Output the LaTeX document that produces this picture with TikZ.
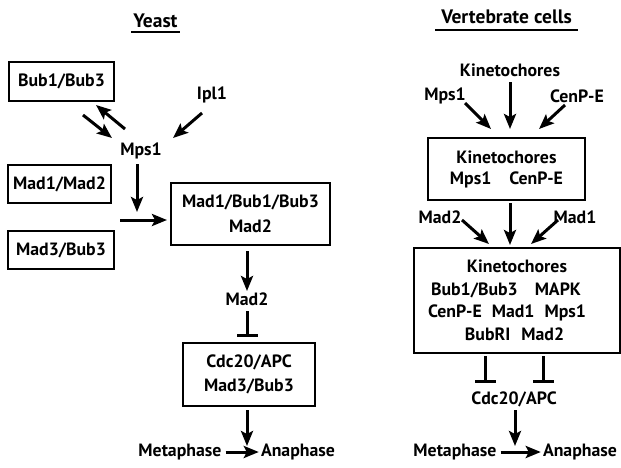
\documentclass[tikz,border=0pt]{standalone}
\usepackage{fontspec}
\setmainfont{PT Sans}
\usetikzlibrary{arrows.meta}
\begin{document}
\begin{tikzpicture}[x=1pt,y=-1pt,
  every node/.style={font=\bfseries\fontsize{17.8}{21}\selectfont, inner sep=0pt},
  ttl/.style={font=\bfseries\fontsize{19.5}{22}\selectfont},
  box/.style={draw, line width=2pt, align=center},
  arr/.style={line width=3pt, -{Stealth[length=15pt,width=12pt,inset=3pt]}},
  inh/.style={line width=3pt, -{Bar[width=21pt,line width=3.2pt]}}
]
\useasboundingbox (0,0) rectangle (621,467);
% ---------------- Yeast ----------------
\node[ttl] (tyeast) at (155.5,21) {Yeast};
\draw[line width=2pt] (131,32) -- (180,32);
\node[box, minimum width=105, minimum height=39] (bub13) at (61.5,81.5) {Bub1/Bub3};
\node (ipl1) at (212,95) {Ipl1};
\node (mps1) at (141,151) {Mps1};
\node[box, minimum width=103, minimum height=38] (mad12) at (59.5,184) {Mad1/Mad2};
\node[box, minimum width=106, minimum height=38] (mad3b) at (61,250) {Mad3/Bub3};
\node[box, minimum width=159, minimum height=62] (ybox) at (250.5,214) {Mad1/Bub1/Bub3\\[4pt]Mad2};
\node (ymad2) at (247,299) {Mad2};
\node[box, minimum width=132, minimum height=63] (ycdc) at (249,374.5) {Cdc20/APC\\[3pt]Mad3/Bub3};
\node (ymeta) at (180,452) {Metaphase};
\node (yana) at (298,452) {Anaphase};

\coordinate (a1s) at (83,115); \coordinate (a1e) at (112,138);
\coordinate (a2s) at (125,129); \coordinate (a2e) at (96,105);
\coordinate (a3s) at (202,113); \coordinate (a3e) at (173,138);
\coordinate (a4s) at (137,164); \coordinate (a4e) at (137,212);
\coordinate (a5s) at (120,220);
\draw[arr] (a1s) -- (a1e);
\draw[arr] (a2s) -- (a2e);
\draw[arr] (a3s) -- (a3e);
\draw[arr] (a4s) -- (a4e);
\draw[arr] (a5s) -- ([xshift=-3pt]ybox.west |- a5s);
\coordinate (m2s) at (247,251); \coordinate (m2e) at (247,291);
\draw[arr] (m2s) -- (m2e);
\coordinate (m3s) at (247,311); \coordinate (m3e) at (247,337);
\draw[inh] (m3s) -- (m3e);
\coordinate (ycs) at (247,410); \coordinate (yarrend) at (247,446);
\draw[arr] (ycs) -- (yarrend);
\draw[arr] ([xshift=4pt]ymeta.east) -- ([xshift=-2pt]yana.west);

% ---------------- Vertebrate ----------------
\node[ttl] (tvert) at (506.5,17) {Vertebrate cells};
\draw[line width=2pt] (435,30) -- (578,30);
\node (vkin) at (510,70) {Kinetochores};
\node (vmps1) at (445,96) {Mps1};
\node (vcenp) at (577,96) {CenP-E};
\node[box, minimum width=157, minimum height=62] (vkbox) at (506.5,169) {Kinetochores\\Mps1\quad CenP-E};
\node (vmad2) at (440,217) {Mad2};
\node (vmad1) at (575,217) {Mad1};
\node[box, minimum width=206, minimum height=105] (vbig) at (517,300.5)
  {Kinetochores\\[1.5pt]Bub1/Bub3\hspace{17pt}MAPK\kern22pt\\[1.5pt]CenP-E\hspace{10pt}Mad1\hspace{10pt}Mps1\kern20pt\\[1.5pt]BubRI\hspace{11pt}Mad2\kern5pt};
\node (vcdc) at (514,399) {Cdc20/APC};
\node (vmeta) at (455,452) {Metaphase};
\node (vana) at (580,452) {Anaphase};

\coordinate (b1s) at (510,82); \coordinate (b1e) at (510,129);
\coordinate (b2s) at (465,103); \coordinate (b2e) at (491,129);
\coordinate (b3s) at (565,105); \coordinate (b3e) at (539,129);
\draw[arr] (b1s) -- (b1e);
\draw[arr] (b2s) -- (b2e);
\draw[arr] (b3s) -- (b3e);
\coordinate (c1s) at (510,203); \coordinate (c1e) at (510,245);
\coordinate (c2s) at (462,220); \coordinate (c2e) at (489,244);
\coordinate (c3s) at (558,220); \coordinate (c3e) at (531,244);
\draw[arr] (c1s) -- (c1e);
\draw[arr] (c2s) -- (c2e);
\draw[arr] (c3s) -- (c3e);
\coordinate (i1s) at (485,356); \coordinate (i1) at (485,383);
\coordinate (i2s) at (543,356); \coordinate (i2) at (543,383);
\draw[inh] (i1s) -- (i1);
\draw[inh] (i2s) -- (i2);
\coordinate (vcs) at (515,410); \coordinate (varrend) at (515,446);
\draw[arr] (vcs) -- (varrend);
\draw[arr] ([xshift=4pt]vmeta.east) -- ([xshift=-2pt]vana.west);
\end{tikzpicture}
\end{document}
